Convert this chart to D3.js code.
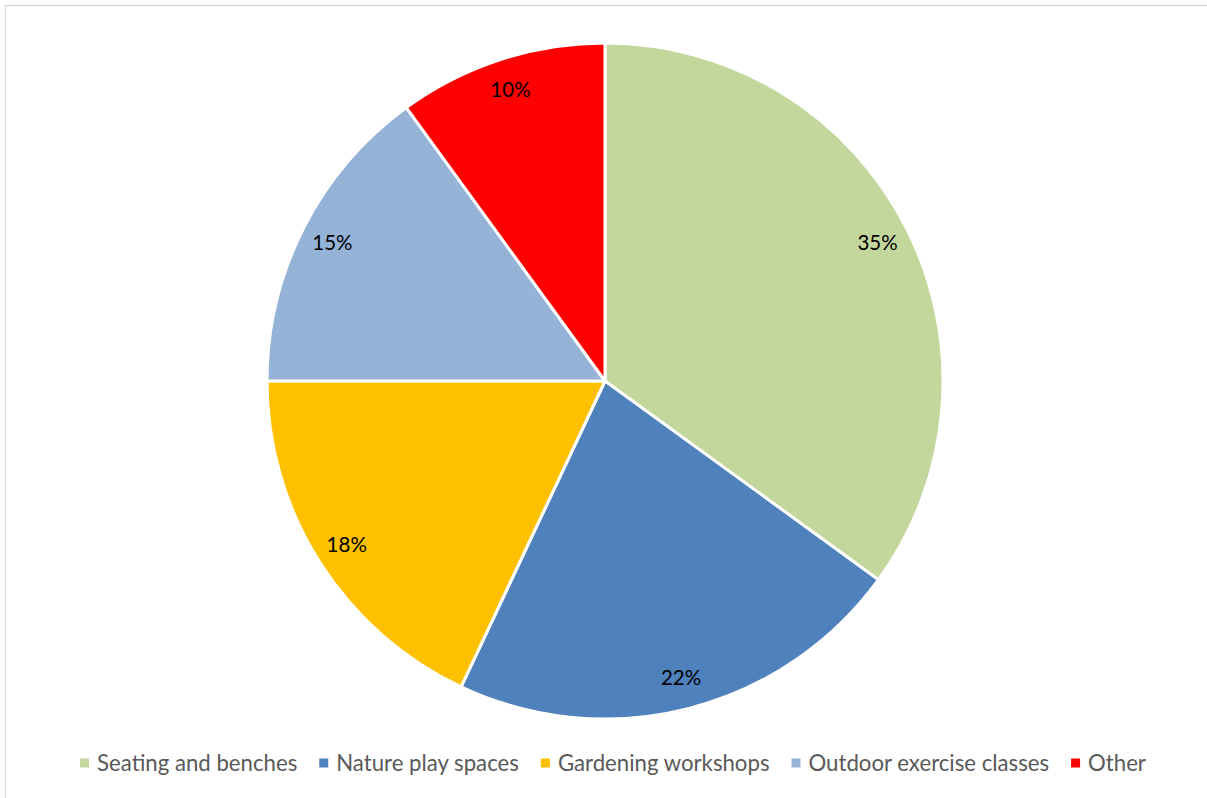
<!DOCTYPE html>
<html>
<head>
<meta charset="utf-8">
<script src="https://cdn.jsdelivr.net/npm/d3@7"></script>
<style>
  html, body { margin: 0; padding: 0; background: #fff; }
  svg { display: block; }
</style>
</head>
<body>
<svg id="chart" width="1207" height="798"></svg>
<script>
// Share of responses per amenity (percent)
const categories = ["Seating and benches", "Nature play spaces", "Gardening workshops", "Outdoor exercise classes", "Other"];
const values = [35, 22, 18, 15, 10];
const colors = ["#C3D69B", "#4F81BD", "#FFC000", "#95B3D7", "#FF0000"];

const W = 1207, H = 798;
const cx = 605, cy = 381, R = 338;
const fontFamily = "Lato, 'Open Sans', sans-serif";

const svg = d3.select("#chart");

// chart area frame
svg.append("rect")
  .attr("x", 5.5).attr("y", 5.5)
  .attr("width", W + 20).attr("height", H + 20)
  .attr("fill", "#fff")
  .attr("stroke", "#D9D9D9")
  .attr("stroke-width", 1.5);

const data = categories.map((c, i) => ({ name: c, value: values[i], color: colors[i] }));

const pie = d3.pie().value(d => d.value).sort(null);
const arcs = pie(data);

const arc = d3.arc().innerRadius(0).outerRadius(R);
const labelArc = d3.arc().innerRadius(R * 0.905).outerRadius(R * 0.905);

const g = svg.append("g").attr("transform", `translate(${cx},${cy})`);

g.selectAll("path.slice")
  .data(arcs)
  .join("path")
  .attr("class", "slice")
  .attr("d", arc)
  .attr("fill", d => d.data.color)
  .attr("stroke", "#fff")
  .attr("stroke-width", 3)
  .attr("stroke-linejoin", "round");

g.selectAll("text.lbl")
  .data(arcs)
  .join("text")
  .attr("class", "lbl")
  .attr("transform", d => `translate(${labelArc.centroid(d)})`)
  .attr("text-anchor", "middle")
  .attr("dy", "0.36em")
  .attr("font-family", fontFamily)
  .attr("font-size", 20.5)
  .attr("fill", "#000")
  .text(d => d.data.value + "%");

// legend along the bottom, centred
const legend = svg.append("g").attr("class", "legend");
const legendY = 763;
const box = 9, boxGap = 8, itemGap = 22;

const items = legend.selectAll("g.item")
  .data(data)
  .join("g")
  .attr("class", "item");

items.append("rect")
  .attr("width", box).attr("height", box)
  .attr("y", legendY - box / 2)
  .attr("fill", d => d.color);

items.append("text")
  .attr("x", box + boxGap)
  .attr("y", legendY)
  .attr("dy", "0.35em")
  .attr("font-family", fontFamily)
  .attr("font-size", 22.2)
  .attr("fill", "#595959")
  .text(d => d.name);

const widths = [];
items.each(function () {
  widths.push(box + boxGap + d3.select(this).select("text").node().getComputedTextLength());
});
const total = d3.sum(widths) + itemGap * (widths.length - 1);
let x = 613 - total / 2;
items.each(function (d, i) {
  d3.select(this).attr("transform", `translate(${x},0)`);
  x += widths[i] + itemGap;
});
</script>
</body>
</html>
